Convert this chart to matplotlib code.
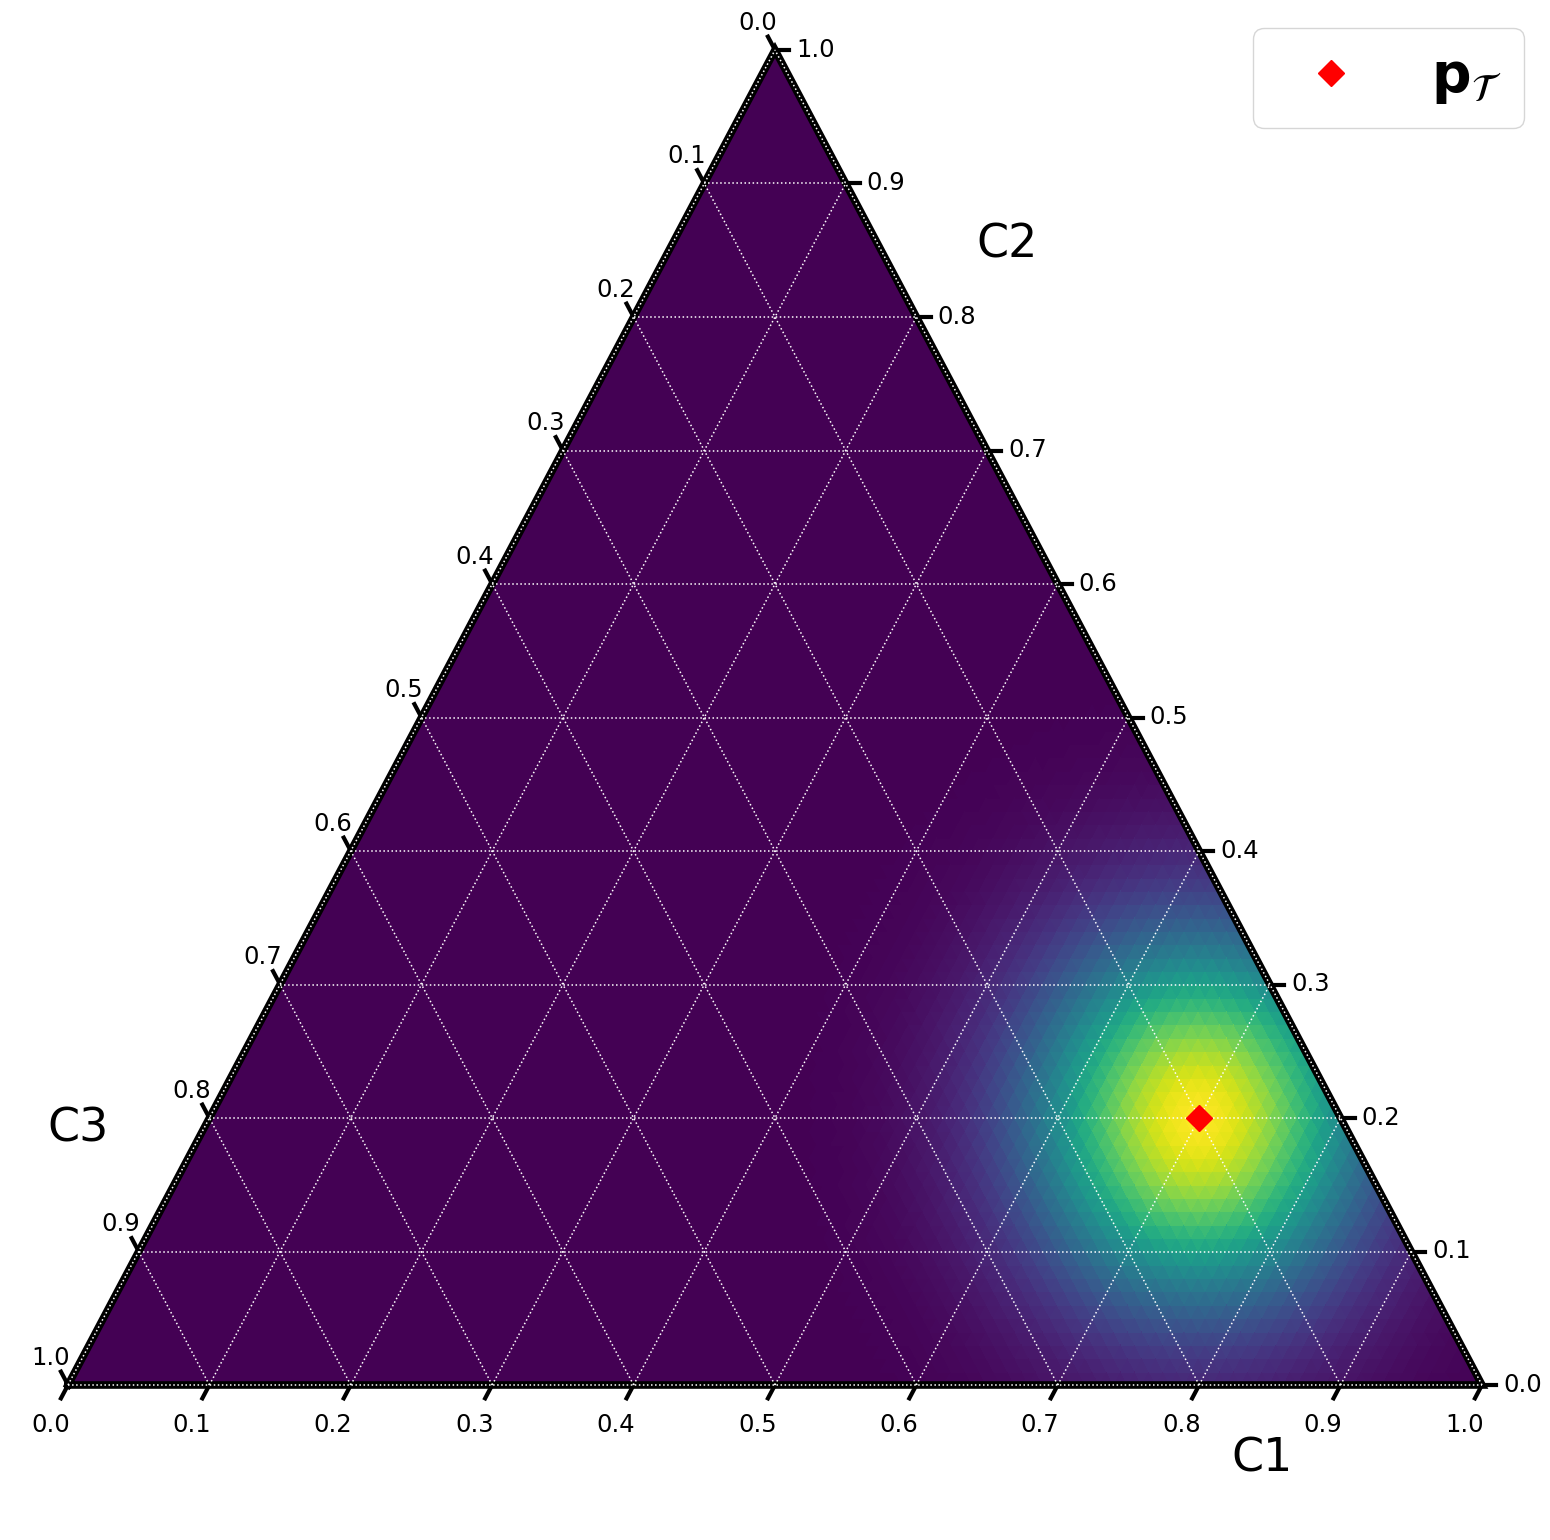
import numpy as np
import matplotlib
matplotlib.use("Agg")
import matplotlib.pyplot as plt
import matplotlib.tri as mtri

# ---------------- data ----------------
peak = [0.7, 0.2, 0.1]          # (C1, C2, C3) of p_T
sigma = 0.082                    # spread of the density (cartesian units)
scale = 100                      # heatmap subdivision
tick_values = [0.0, 0.1, 0.2, 0.3, 0.4, 0.5, 0.6, 0.7, 0.8, 0.9, 1.0]
tick_labels = ["0.0", "0.1", "0.2", "0.3", "0.4", "0.5", "0.6", "0.7", "0.8", "0.9", "1.0"]
grid_values = [0.0, 0.1, 0.2, 0.3, 0.4, 0.5, 0.6, 0.7, 0.8, 0.9]
axis_names = ["C1", "C2", "C3"]
legend_label = r"$\mathbf{p}_\mathcal{T}$"

H = np.sqrt(3) / 2


def proj(a, b):
    a = np.asarray(a, dtype=float)
    b = np.asarray(b, dtype=float)
    return a + b / 2.0, b * H


fig = plt.figure(figsize=(15.5, 15.4), dpi=100)
ax = fig.add_axes([0, 0, 1, 1])
ax.set_xlim(-68 / 1414, (1550 - 68) / 1414)
ax.set_ylim(-(155 / 1335) * H, (1385 / 1335) * H)
ax.set_axis_off()

# ---------------- heatmap ----------------
idx = {}
A, B = [], []
for i in range(scale + 1):
    for j in range(scale + 1 - i):
        idx[(i, j)] = len(A)
        A.append(i / scale)
        B.append(j / scale)
A = np.array(A)
B = np.array(B)
X, Y = proj(A, B)
px, py = proj(peak[0], peak[1])
vals = np.exp(-((X - px) ** 2 + (Y - py) ** 2) / (2 * sigma ** 2))

tris = []
for i in range(scale):
    for j in range(scale - i):
        tris.append([idx[(i, j)], idx[(i + 1, j)], idx[(i, j + 1)]])
        if i + j <= scale - 2:
            tris.append([idx[(i + 1, j)], idx[(i + 1, j + 1)], idx[(i, j + 1)]])
tris = np.array(tris)
triang = mtri.Triangulation(X, Y, tris)
face = vals[tris].mean(axis=1)
ax.tripcolor(triang, facecolors=face, cmap="viridis", vmin=vals.min(), vmax=vals.max(),
             edgecolors="face", linewidth=0.6, antialiased=False, zorder=1)

# ---------------- boundary ----------------
bx, by = proj([0, 1, 0, 0], [0, 0, 1, 0])
ax.plot(bx, by, color="black", lw=5.5, zorder=3, solid_joinstyle="miter")

# ---------------- gridlines ----------------
for v in grid_values:
    # constant C2
    gx, gy = proj([0, 1 - v], [v, v])
    ax.plot(gx, gy, color="white", lw=1.1, ls=":", zorder=4)
    # constant C1
    gx, gy = proj([v, v], [0, 1 - v])
    ax.plot(gx, gy, color="white", lw=1.1, ls=":", zorder=4)
    # constant C3
    gx, gy = proj([1 - v, 0], [0, 1 - v])
    ax.plot(gx, gy, color="white", lw=1.1, ls=":", zorder=4)

# ---------------- ticks ----------------
off = 0.01
tfs = 17.5
n = len(tick_values)
for k, v in enumerate(tick_values):
    # bottom axis (C1)
    ax.plot([v, v - off / 2], [0, -off * H], color="black", lw=3, zorder=3)
    ax.text(v - 1.25 * off, -3.5 * off * H, tick_labels[k], ha="center", va="baseline", fontsize=tfs)
    # right axis (C2)
    x1, y1 = proj(1 - v, v)
    x2, y2 = proj(1 - v + off, v)
    ax.plot([x1, x2], [y1, y2], color="black", lw=3, zorder=3)
    tx, ty = proj(1 - v + 3.1 * off, v - 0.5 * off)
    ax.text(tx, ty, tick_labels[k], ha="center", va="baseline", fontsize=tfs)
    # left axis (C3)
    x1, y1 = proj(0, v)
    x2, y2 = proj(-off, v + off)
    ax.plot([x1, x2], [y1, y2], color="black", lw=3, zorder=3)
    tx, ty = proj(-2 * off, v + 1.5 * off)
    ax.text(tx, ty, tick_labels[n - 1 - k], ha="center", va="baseline", fontsize=tfs)

# ---------------- axis labels ----------------
lfs = 33
ax.text((1262 - 68) / 1414, -(87 / 1335) * H, axis_names[0], ha="center", va="baseline", fontsize=lfs)
ax.text((1007 - 68) / 1414, (1127 / 1335) * H, axis_names[1], ha="center", va="baseline", fontsize=lfs)
ax.text((77.5 - 68) / 1414, (243 / 1335) * H, axis_names[2], ha="center", va="baseline", fontsize=lfs)

# ---------------- point ----------------
ax.plot([px], [py], linestyle="none", marker="D", color="red", ms=13.5, zorder=6, label=legend_label)
ax.legend(loc="upper right", fontsize=40, bbox_to_anchor=(1524 / 1550, 1 - 28 / 1540),
          borderaxespad=0.0)

fig.savefig("out.png", dpi=100)
